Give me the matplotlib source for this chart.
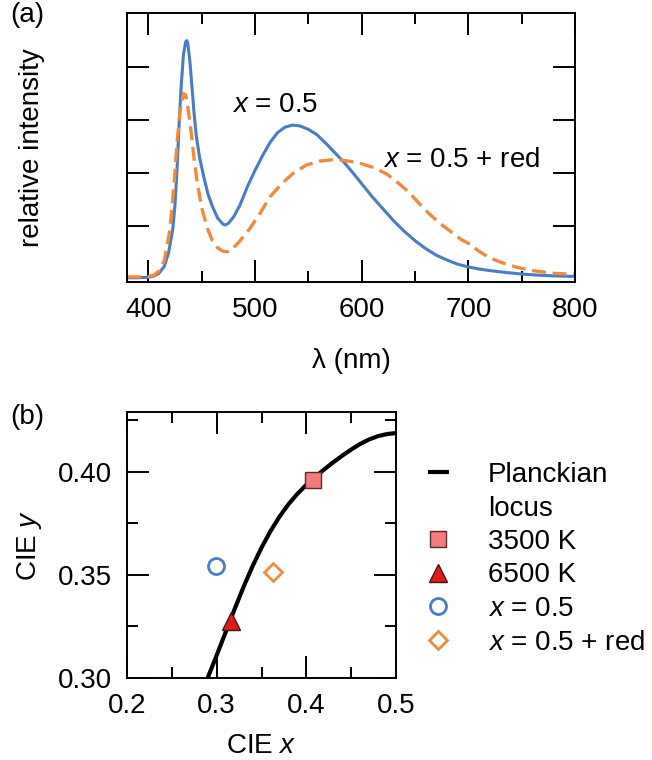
import matplotlib
matplotlib.use("Agg")
import matplotlib.pyplot as plt
from matplotlib.lines import Line2D
from matplotlib.ticker import MultipleLocator, FixedLocator, FormatStrFormatter

plt.rcParams['font.family'] = ['Liberation Sans', 'DejaVu Sans']
plt.rcParams['mathtext.fontset'] = 'custom'
plt.rcParams['mathtext.rm'] = 'Liberation Sans'
plt.rcParams['mathtext.it'] = 'Liberation Sans:italic'

# ---- (a) emission spectra ----
wl_blue = [380, 390, 400, 405, 410, 415, 419, 423, 425, 427, 429, 431, 433, 435,
           436, 437, 439, 441, 443, 445, 448, 452, 456, 460, 465, 470, 472, 475,
           480, 486, 493, 500, 507, 514, 521, 528, 535, 542, 550, 558, 567, 575,
           583, 592, 600, 610, 620, 630, 640, 650, 660, 670, 680, 690, 700, 710,
           720, 735, 750, 765, 780, 800]
int_blue = [0.005, 0.005, 0.007, 0.011, 0.022, 0.048, 0.10, 0.19, 0.28, 0.42, 0.60,
            0.74, 0.85, 0.895, 0.90, 0.89, 0.82, 0.72, 0.62, 0.54, 0.46, 0.385,
            0.32, 0.275, 0.23, 0.207, 0.204, 0.21, 0.235, 0.28, 0.35, 0.41, 0.465,
            0.515, 0.552, 0.573, 0.581, 0.578, 0.565, 0.545, 0.51, 0.476, 0.443,
            0.40, 0.36, 0.31, 0.265, 0.22, 0.18, 0.145, 0.115, 0.09, 0.072, 0.056,
            0.046, 0.038, 0.032, 0.025, 0.019, 0.015, 0.012, 0.010]

wl_red = [380, 390, 400, 405, 410, 415, 420, 424, 427, 430, 433, 435, 437, 440,
          443, 446, 450, 455, 460, 465, 470, 474, 478, 485, 495, 505, 514, 525,
          536, 548, 560, 572, 580, 590, 600, 612, 624, 635, 645, 655, 665, 675,
          685, 693, 700, 710, 720, 733, 745, 760, 779, 800]
int_red = [0.008, 0.008, 0.010, 0.014, 0.030, 0.07, 0.18, 0.35, 0.52, 0.64, 0.70,
           0.695, 0.65, 0.56, 0.45, 0.36, 0.27, 0.195, 0.145, 0.118, 0.105, 0.103,
           0.11, 0.14, 0.19, 0.25, 0.31, 0.36, 0.40, 0.43, 0.445, 0.45, 0.449,
           0.444, 0.435, 0.42, 0.395, 0.36, 0.325, 0.28, 0.24, 0.205, 0.175, 0.15,
           0.135, 0.105, 0.08, 0.06, 0.045, 0.032, 0.022, 0.018]

# ---- (b) chromaticity ----
locus_x = [0.290, 0.300, 0.310, 0.320, 0.330, 0.340, 0.350, 0.360, 0.370, 0.380,
           0.390, 0.400, 0.410, 0.420, 0.430, 0.440, 0.450, 0.460, 0.470, 0.480,
           0.490, 0.500, 0.505]
locus_y = [0.300, 0.311, 0.3222, 0.3334, 0.3442, 0.3542, 0.3632, 0.3712, 0.3782,
           0.3842, 0.3893, 0.3937, 0.3976, 0.4012, 0.4046, 0.4078, 0.4108, 0.4135,
           0.4157, 0.4173, 0.4183, 0.4188, 0.4189]
pt_3500 = (0.407, 0.396)
pt_6500 = (0.3155, 0.3277)
pt_x05 = (0.299, 0.3545)
pt_x05_red = (0.3625, 0.3516)

blue = '#4a7cc4'
orange = '#ef8a3e'
FS = 20

fig = plt.figure(figsize=(6.52, 7.6), dpi=100)

def style_axes(ax):
    for s in ax.spines.values():
        s.set_linewidth(1.4)
    ax.tick_params(which='both', direction='in', top=True, right=True,
                   width=1.4, labelsize=FS, pad=11)
    ax.tick_params(which='major', length=16)
    ax.tick_params(which='minor', length=8)

# panel (a)
axa = fig.add_axes([127/652, 1-282/760, 448/652, 269/760])
axa.plot(wl_blue, int_blue, color=blue, lw=2.2)
axa.plot(wl_red, int_red, color=orange, lw=2.4, dashes=(4.2, 2.0))
axa.set_xlim(380, 800)
axa.set_ylim(-0.011, 1.004)
axa.xaxis.set_major_locator(MultipleLocator(100))
axa.xaxis.set_minor_locator(FixedLocator([450, 550, 650, 750]))
axa.yaxis.set_major_locator(FixedLocator([0.2, 0.4, 0.6, 0.8]))
axa.set_yticklabels([])
style_axes(axa)
axa.set_ylabel('relative intensity', fontsize=FS)
axa.yaxis.set_label_coords(-0.183, 0.5)
axa.set_xlabel('λ (nm)', fontsize=FS)
axa.xaxis.set_label_coords(0.5, -0.245)
axa.text(478, 0.657, '$x$ = 0.5', fontsize=FS, va='center', ha='left')
axa.text(620, 0.449, '$x$ = 0.5 + red', fontsize=FS, va='center', ha='left')

# panel (b)
axb = fig.add_axes([127/652, 1-678/760, 269/652, 266/760])
axb.plot(locus_x, locus_y, color='black', lw=3.0, solid_capstyle='butt')
m_sq, = axb.plot(*pt_3500, 's', ms=12, mfc='#f27c7c', mec='#5a2a2a', mew=1.0)
m_tri, = axb.plot(*pt_6500, '^', ms=13, mfc='#e01b1b', mec='#4a1010', mew=1.0)
m_circ, = axb.plot(*pt_x05, 'o', ms=11.5, mfc='none', mec=blue, mew=2.0)
m_dia, = axb.plot(*pt_x05_red, 'D', ms=9.5, mfc='none', mec=orange, mew=2.0)
axb.set_xlim(0.2, 0.5)
axb.set_ylim(0.30, 0.429)
axb.xaxis.set_major_locator(FixedLocator([0.2, 0.3, 0.4, 0.5]))
axb.xaxis.set_minor_locator(FixedLocator([0.25, 0.35, 0.45]))
axb.xaxis.set_major_formatter(FormatStrFormatter('%.1f'))
axb.yaxis.set_major_locator(FixedLocator([0.30, 0.35, 0.40]))
axb.yaxis.set_minor_locator(FixedLocator([0.325, 0.375, 0.425]))
axb.yaxis.set_major_formatter(FormatStrFormatter('%.2f'))
style_axes(axb)
axb.set_xlabel('CIE $x$', fontsize=FS)
axb.xaxis.set_label_coords(0.5, -0.208)
axb.set_ylabel('CIE $y$', fontsize=FS)
axb.yaxis.set_label_coords(-0.31, 0.5)

blank = Line2D([], [], linestyle='none', marker='none')
leg_line = Line2D([], [], color='black', lw=3.0, solid_capstyle='butt')
fig.legend([leg_line, blank, m_sq, m_tri, m_circ, m_dia],
           ['Planckian', 'locus', '3500 K', '6500 K', '$x$ = 0.5', '$x$ = 0.5 + red'],
           loc='upper left', bbox_to_anchor=(428/652, 1-462/760),
           bbox_transform=fig.transFigure, frameon=False, fontsize=FS,
           handlelength=0.75, handletextpad=1.4, labelspacing=0.27,
           borderpad=0, borderaxespad=0, numpoints=1)

fig.text(10/652, 1-2/760, '(a)', fontsize=FS, va='top', ha='left')
fig.text(10/652, 1-404/760, '(b)', fontsize=FS, va='top', ha='left')

fig.savefig('out.png', dpi=100)
